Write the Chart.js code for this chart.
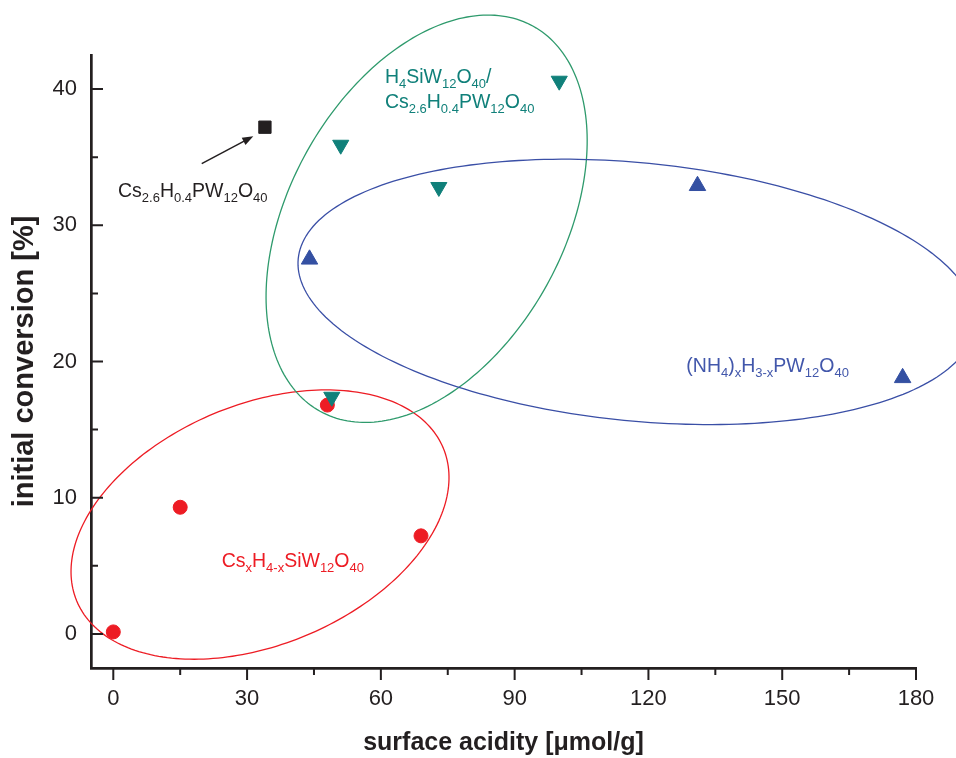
<!DOCTYPE html>
<html>
<head>
<meta charset="utf-8">
<style>
  html, body { margin: 0; padding: 0; background: #fff; }
</style>
<script src="https://cdn.jsdelivr.net/npm/chart.js@4.4.1/dist/chart.umd.min.js"></script>
</head>
<body>
<canvas id="chart" width="956" height="758"></canvas>
<script>
// values
const csSiW_x = [0, 15, 48, 69];
const csSiW_y = [0.15, 9.3, 16.8, 7.2];
const mixed_x = [49, 51, 73, 100];
const mixed_y = [17.4, 35.9, 32.8, 40.6];
const nh4_x = [44, 131, 177];
const nh4_y = [27.5, 32.9, 18.8];
const csPW_x = [34];
const csPW_y = [37.2];

const xTicks = [0, 30, 60, 90, 120, 150, 180];
const xMinor = [15, 45, 75, 105, 135, 165];
const yTicks = [0, 10, 20, 30, 40];
const yMinor = [5, 15, 25, 35];

const INK = '#231f20';
const RED = '#ed1c24';
const TEAL = '#10807a';
const BLUE = '#3450a2';
const FONT = '"Liberation Sans", Arial, sans-serif';

// group ellipses: centre + two semi-axis vectors, all in data units
const ellipses = [
  { cx: 32.9, cy: 8.03, ux: 41.1, uy: 5.61, vx: -10.34, vy: 8.14, color: RED },
  { cx: 70.26, cy: 30.48, ux: 23.91, uy: 14.13, vx: -26.92, vy: 4.89, color: '#2e9a6c' },
  { cx: 117.36, cy: 25.11, ux: 75.89, uy: -2.44, vx: 2.83, vy: 9.43, color: '#3a4fa6' }
];

// formula labels: [text, isSubscript]
const labels = [
  { x: 1.05, y: 32.06, color: INK,
    parts: [['Cs',0],['2.6',1],['H',0],['0.4',1],['PW',0],['12',1],['O',0],['40',1]] },
  { x: 60.9, y: 40.41, color: TEAL,
    parts: [['H',0],['4',1],['SiW',0],['12',1],['O',0],['40',1],['/',0]] },
  { x: 60.9, y: 38.6, color: TEAL,
    parts: [['Cs',0],['2.6',1],['H',0],['0.4',1],['PW',0],['12',1],['O',0],['40',1]] },
  { x: 128.5, y: 19.22, color: '#4257ab',
    parts: [['(NH',0],['4',1],[')',0],['x',1],['H',0],['3-x',1],['PW',0],['12',1],['O',0],['40',1]] },
  { x: 24.3, y: 4.89, color: RED,
    parts: [['Cs',0],['x',1],['H',0],['4-x',1],['SiW',0],['12',1],['O',0],['40',1]] }
];
const arrow = { x0: 19.83, y0: 34.53, x1: 31.4, y1: 36.54 };

const pts = (xs, ys) => xs.map((x, i) => ({ x: x, y: ys[i] }));

function drawFormula(ctx, parts, px, py, color) {
  ctx.fillStyle = color;
  ctx.textBaseline = 'alphabetic';
  ctx.textAlign = 'left';
  let x = px;
  parts.forEach(([s, sub]) => {
    ctx.font = (sub ? '13px ' : '19.5px ') + FONT;
    ctx.fillText(s, x, py + (sub ? 5 : 0));
    x += ctx.measureText(s).width;
  });
}

const decor = {
  id: 'decor',
  beforeDatasetsDraw(chart) {
    const { ctx, scales: { x, y } } = chart;
    ctx.save();
    ctx.lineWidth = 1.3;
    ellipses.forEach(e => {
      ctx.strokeStyle = e.color;
      ctx.beginPath();
      for (let k = 0; k <= 240; k++) {
        const t = k / 240 * Math.PI * 2;
        const dx = e.cx + Math.cos(t) * e.ux + Math.sin(t) * e.vx;
        const dy = e.cy + Math.cos(t) * e.uy + Math.sin(t) * e.vy;
        const px = x.getPixelForValue(dx), py = y.getPixelForValue(dy);
        if (k) ctx.lineTo(px, py); else ctx.moveTo(px, py);
      }
      ctx.closePath();
      ctx.stroke();
    });
    ctx.restore();
  },
  afterDraw(chart) {
    const { ctx, scales: { x, y }, chartArea } = chart;
    ctx.save();
    // tick marks: x outward, y inward
    ctx.strokeStyle = INK;
    ctx.lineWidth = 2;
    const b = chartArea.bottom, l = chartArea.left;
    ctx.beginPath();
    xTicks.forEach(v => { const p = x.getPixelForValue(v); ctx.moveTo(p, b); ctx.lineTo(p, b + 12); });
    xMinor.forEach(v => { const p = x.getPixelForValue(v); ctx.moveTo(p, b); ctx.lineTo(p, b + 7); });
    yTicks.forEach(v => { const p = y.getPixelForValue(v); ctx.moveTo(l, p); ctx.lineTo(l + 12, p); });
    yMinor.forEach(v => { const p = y.getPixelForValue(v); ctx.moveTo(l, p); ctx.lineTo(l + 7, p); });
    ctx.stroke();

    // arrow to the lone square
    const ax0 = x.getPixelForValue(arrow.x0), ay0 = y.getPixelForValue(arrow.y0);
    const ax1 = x.getPixelForValue(arrow.x1), ay1 = y.getPixelForValue(arrow.y1);
    const ang = Math.atan2(ay1 - ay0, ax1 - ax0);
    const hl = 11, hw = 4;
    ctx.lineWidth = 1.5;
    ctx.beginPath();
    ctx.moveTo(ax0, ay0);
    ctx.lineTo(ax1 - Math.cos(ang) * hl * 0.8, ay1 - Math.sin(ang) * hl * 0.8);
    ctx.stroke();
    ctx.fillStyle = INK;
    ctx.beginPath();
    ctx.moveTo(ax1, ay1);
    ctx.lineTo(ax1 - Math.cos(ang) * hl - Math.sin(ang) * hw, ay1 - Math.sin(ang) * hl + Math.cos(ang) * hw);
    ctx.lineTo(ax1 - Math.cos(ang) * hl + Math.sin(ang) * hw, ay1 - Math.sin(ang) * hl - Math.cos(ang) * hw);
    ctx.closePath();
    ctx.fill();

    labels.forEach(lb => drawFormula(ctx, lb.parts, x.getPixelForValue(lb.x), y.getPixelForValue(lb.y), lb.color));
    ctx.restore();
  }
};

new Chart(document.getElementById('chart'), {
  type: 'scatter',
  data: {
    datasets: [
      { label: 'H4SiW12O40/Cs2.6H0.4PW12O40', data: pts(mixed_x, mixed_y), pointStyle: 'triangle', rotation: 180,
        pointRadius: 9.3, backgroundColor: TEAL, borderColor: TEAL, borderWidth: 1 },
      { label: 'CsxH4-xSiW12O40', data: pts(csSiW_x, csSiW_y), pointStyle: 'circle',
        pointRadius: 7, backgroundColor: RED, borderColor: RED, borderWidth: 1 },
      { label: '(NH4)xH3-xPW12O40', data: pts(nh4_x, nh4_y), pointStyle: 'triangle',
        pointRadius: 9.5, backgroundColor: BLUE, borderColor: BLUE, borderWidth: 1 },
      { label: 'Cs2.6H0.4PW12O40', data: pts(csPW_x, csPW_y), pointStyle: 'rect',
        pointRadius: 8.7, backgroundColor: INK, borderColor: INK, borderWidth: 1 }
    ]
  },
  options: {
    responsive: false,
    animation: false,
    clip: false,
    layout: { padding: { top: 55, right: 40, left: 0, bottom: 0 } },
    plugins: { legend: { display: false }, tooltip: { enabled: false } },
    scales: {
      x: {
        type: 'linear', min: -5, max: 180,
        afterBuildTicks: s => { s.ticks = xTicks.map(v => ({ value: v })); },
        afterFit: s => { s.height = 90; },
        grid: { display: false, drawTicks: false },
        border: { display: true, color: INK, width: 2.7 },
        ticks: { color: INK, padding: 18, font: { family: FONT, size: 22 } },
        title: { display: true, text: 'surface acidity [\u03bcmol/g]', color: INK,
                 padding: { top: 0, bottom: 0 }, font: { family: FONT, size: 25, weight: 'bold' } }
      },
      y: {
        type: 'linear', min: -2.5, max: 42.5,
        afterBuildTicks: s => { s.ticks = yTicks.map(v => ({ value: v })); },
        afterFit: s => { s.width = 91; },
        grid: { display: false, drawTicks: false },
        border: { display: true, color: INK, width: 2.7 },
        ticks: { color: INK, padding: 14, font: { family: FONT, size: 22 } },
        title: { display: true, text: 'initial conversion [%]', color: INK,
                 padding: { top: 8, bottom: 0 }, font: { family: FONT, size: 29, weight: 'bold' } }
      }
    }
  },
  plugins: [decor]
});
</script>
</body>
</html>
